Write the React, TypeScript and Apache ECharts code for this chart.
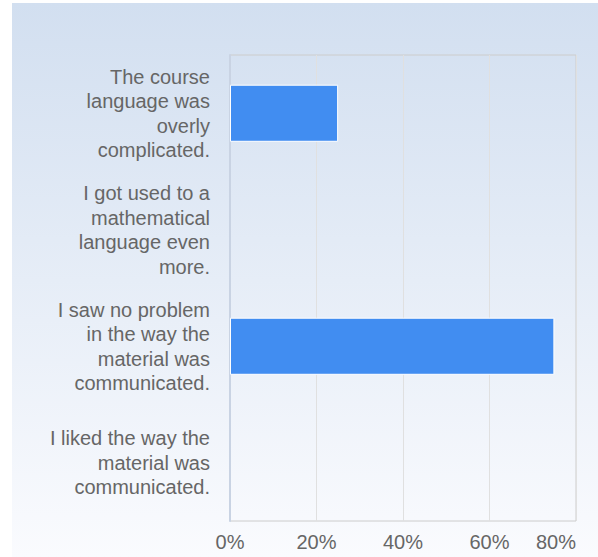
import React, { useEffect, useRef } from "react";
import * as echarts from "echarts";

const categories: string[] = [
  "The course language was overly complicated.",
  "I got used to a mathematical language even more.",
  "I saw no problem in the way the material was communicated.",
  "I liked the way the material was communicated.",
];
const values: number[] = [25, 0, 75, 0];
const xTicks: number[] = [0, 20, 40, 60, 80];

const FONT = "'Liberation Sans', Arial, sans-serif";

function wrap(text: string, maxWidth: number, fontSize: number): string {
  const canvas = document.createElement("canvas");
  const ctx = canvas.getContext("2d");
  if (!ctx) return text;
  ctx.font = `${fontSize}px ${FONT}`;
  const words = text.split(" ");
  const lines: string[] = [];
  let cur = "";
  for (const w of words) {
    const test = cur ? cur + " " + w : w;
    if (cur && ctx.measureText(test).width > maxWidth) {
      lines.push(cur);
      cur = w;
    } else {
      cur = test;
    }
  }
  if (cur) lines.push(cur);
  return lines.join("\n");
}

export default function App() {
  const ref = useRef<HTMLDivElement>(null);
  useEffect(() => {
    document.body.style.margin = "0";
    if (!ref.current) return;
    const chart = echarts.init(ref.current, undefined, { renderer: "svg" });
    chart.setOption({
      animation: false,
      textStyle: { fontFamily: FONT },
      graphic: [
        {
          type: "rect",
          z: -100,
          shape: { x: 12, y: 3, width: 586, height: 554 },
          style: {
            fill: new echarts.graphic.LinearGradient(0, 0, 0, 1, [
              { offset: 0, color: "#d2dff0" },
              { offset: 1, color: "#fafbfe" },
            ]),
          },
          silent: true,
        },
      ],
      grid: {
        left: 230,
        right: 22,
        top: 55,
        bottom: 36,
        show: true,
        borderColor: "#cccccc",
        borderWidth: 1,
        backgroundColor: "transparent",
      },
      xAxis: {
        type: "value",
        min: xTicks[0],
        max: xTicks[xTicks.length - 1],
        interval: xTicks[1] - xTicks[0],
        axisLine: { show: false },
        axisTick: { show: false },
        splitLine: { lineStyle: { color: "#e0e0e0", width: 1 } },
        axisLabel: {
          formatter: "{value}%",
          color: "#666666",
          fontSize: 20,
          fontFamily: FONT,
          margin: 11,
          alignMaxLabel: "right",
        },
      },
      yAxis: {
        type: "category",
        inverse: true,
        data: categories,
        axisTick: { show: false },
        axisLine: { show: true, lineStyle: { color: "#c9d3e3", width: 2 } },
        splitLine: { show: false },
        axisLabel: {
          color: "#666666",
          fontSize: 20,
          fontFamily: FONT,
          lineHeight: 24.5,
          margin: 20,
          align: "right",
          formatter: (v: string) => wrap(v, 168, 20),
        },
      },
      series: [
        {
          type: "bar",
          data: values.map((v) => ({
            value: v,
            itemStyle: { borderWidth: v === 0 ? 0 : 1 },
          })),
          barWidth: "49%",
          itemStyle: { color: "#418df1", borderColor: "#ffffff", borderWidth: 1 },
        },
      ],
    });
    return () => chart.dispose();
  }, []);
  return <div ref={ref} style={{ width: 598, height: 557 }} />;
}
